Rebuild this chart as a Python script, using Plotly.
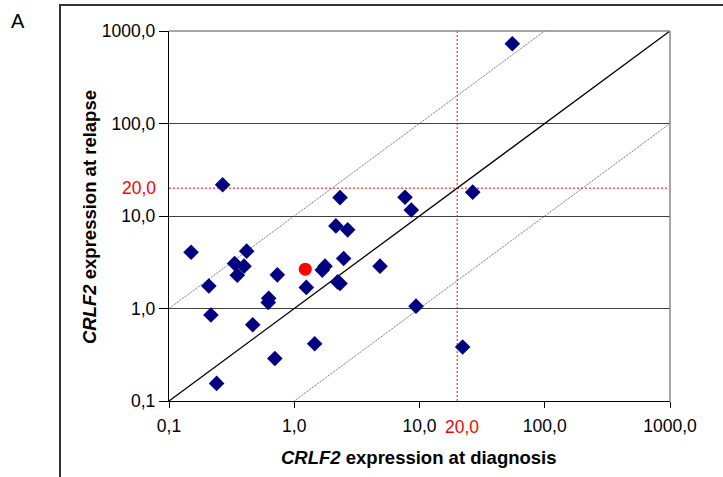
import math
import plotly.graph_objects as go

# ---- data ----
diag = [0.15, 0.208, 0.216, 0.240, 0.334, 0.351, 0.397, 0.417, 0.466, 0.625, 0.62,
        0.70, 0.733, 1.248, 1.456, 1.675, 1.76, 2.15, 2.67, 2.48, 2.22, 2.32, 4.84,
        2.32, 0.268, 55.1, 7.66, 8.6, 26.6, 9.38, 22.1]
relapse = [4.06, 1.75, 0.85, 0.155, 3.06, 2.29, 2.87, 4.17, 0.667, 1.29, 1.16,
           0.288, 2.31, 1.69, 0.416, 2.60, 2.87, 7.82, 7.08, 3.47, 1.94, 1.86, 2.87,
           15.8, 21.8, 727, 15.96, 11.6, 18.1, 1.06, 0.383]
highlight_diag = [1.225]
highlight_relapse = [2.66]

identity_x = [0.1, 1000]
identity_y = [0.1, 1000]
upper_x = [0.1, 100]          # relapse = 10 x diagnosis
upper_y = [1, 1000]
lower_x = [1, 1000]           # relapse = diagnosis / 10
lower_y = [0.1, 100]
threshold = 20

tick_vals = [0.1, 1, 10, 100, 1000]
tick_text = ["0,1", "1,0", "10,0", "100,0", "1000,0"]
threshold_label = "20,0"

FONT = "Liberation Sans, Arial, sans-serif"
TICK_SIZE = 17.5

fig = go.Figure()

# threshold lines (red dotted)
fig.add_trace(go.Scatter(x=[threshold, threshold], y=[0.1, 1000], mode="lines",
                         line=dict(color="#ff0000", width=1, dash="2px,2px"),
                         hoverinfo="skip", showlegend=False))
fig.add_trace(go.Scatter(x=[0.1, 950], y=[threshold, threshold], mode="lines",
                         line=dict(color="#ff0000", width=1, dash="2px,2px"),
                         hoverinfo="skip", showlegend=False))
# 10-fold lines
fig.add_trace(go.Scatter(x=upper_x, y=upper_y, mode="lines",
                         line=dict(color="#555555", width=1, dash="1px,1px"),
                         hoverinfo="skip", showlegend=False))
fig.add_trace(go.Scatter(x=lower_x, y=lower_y, mode="lines",
                         line=dict(color="#555555", width=1, dash="1px,1px"),
                         hoverinfo="skip", showlegend=False))
# identity
fig.add_trace(go.Scatter(x=identity_x, y=identity_y, mode="lines",
                         line=dict(color="#000000", width=1.3),
                         hoverinfo="skip", showlegend=False))
# points
fig.add_trace(go.Scatter(x=diag, y=relapse, mode="markers",
                         marker=dict(symbol="diamond", size=12, color="#000080",
                                     line=dict(width=0)),
                         showlegend=False))
fig.add_trace(go.Scatter(x=highlight_diag, y=highlight_relapse, mode="markers",
                         marker=dict(symbol="circle", size=13, color="#ff0000",
                                     line=dict(width=0)),
                         showlegend=False))

L, R, T, B = 169, 53, 31, 76
W, H = 723, 477
pw = W - L - R
ph = H - T - B

def px(x):
    return (x - L) / pw

def py(y):
    return (H - B - y) / ph

fig.update_layout(
    width=W, height=H,
    margin=dict(l=L, r=R, t=T, b=B, pad=0),
    paper_bgcolor="white", plot_bgcolor="white",
    font=dict(family=FONT, size=TICK_SIZE, color="#000000"),
    xaxis=dict(type="log", range=[-1, 3], tickvals=tick_vals, ticktext=tick_text,
               showgrid=False, zeroline=False, showline=True, linecolor="#000000",
               linewidth=1.3, ticks="outside", ticklen=6, tickcolor="#000000",
               ticklabelstandoff=3,
               tickfont=dict(family=FONT, size=TICK_SIZE)),
    yaxis=dict(type="log", range=[-1, 3], tickvals=tick_vals, ticktext=tick_text,
               showgrid=True, gridcolor="#404040", gridwidth=1, zeroline=False,
               showline=True, linecolor="#000000", linewidth=1.3,
               ticks="outside", ticklen=9, tickcolor="#000000",
               ticklabelstandoff=0,
               tickfont=dict(family=FONT, size=TICK_SIZE)),
    shapes=[
        dict(type="line", xref="paper", yref="paper", x0=1, x1=1, y0=0, y1=1,
             line=dict(color="#888888", width=1.5)),
        dict(type="line", xref="paper", yref="paper", x0=0, x1=1, y0=1, y1=1,
             line=dict(color="#888888", width=1.5)),
        dict(type="path", xref="paper", yref="paper",
             path=f"M {px(60)},{py(480)} L {px(60)},{py(5)} L {px(726)},{py(5)}",
             line=dict(color="#333333", width=2)),
    ],
    annotations=[
        dict(text="A", xref="paper", yref="paper", x=px(18), y=py(21),
             xanchor="center", yanchor="middle", showarrow=False,
             font=dict(family=FONT, size=20)),
        dict(text="<b><i>CRLF2</i> expression at diagnosis</b>", xref="paper",
             yref="paper", x=px(419), y=py(457), xanchor="center", yanchor="middle",
             showarrow=False, font=dict(family=FONT, size=18.5)),
        dict(text="<b><i>CRLF2</i> expression at relapse</b>", xref="paper",
             yref="paper", x=px(89), y=py(217), xanchor="center", yanchor="middle",
             textangle=-90, showarrow=False, font=dict(family=FONT, size=18.5)),
        dict(text=threshold_label, xref="x", yref="paper", x=math.log10(threshold),
             xshift=4.5, y=py(427), xanchor="center", yanchor="middle", showarrow=False,
             font=dict(family=FONT, size=TICK_SIZE, color="#ff0000")),
        dict(text=threshold_label, xref="paper", yref="y", x=px(158),
             y=math.log10(threshold), xanchor="right", yanchor="middle",
             showarrow=False, font=dict(family=FONT, size=TICK_SIZE, color="#ff0000")),
    ],
)

fig.write_html("out.html", config={"displayModeBar": False},
               post_script="document.body.style.margin='0';")
